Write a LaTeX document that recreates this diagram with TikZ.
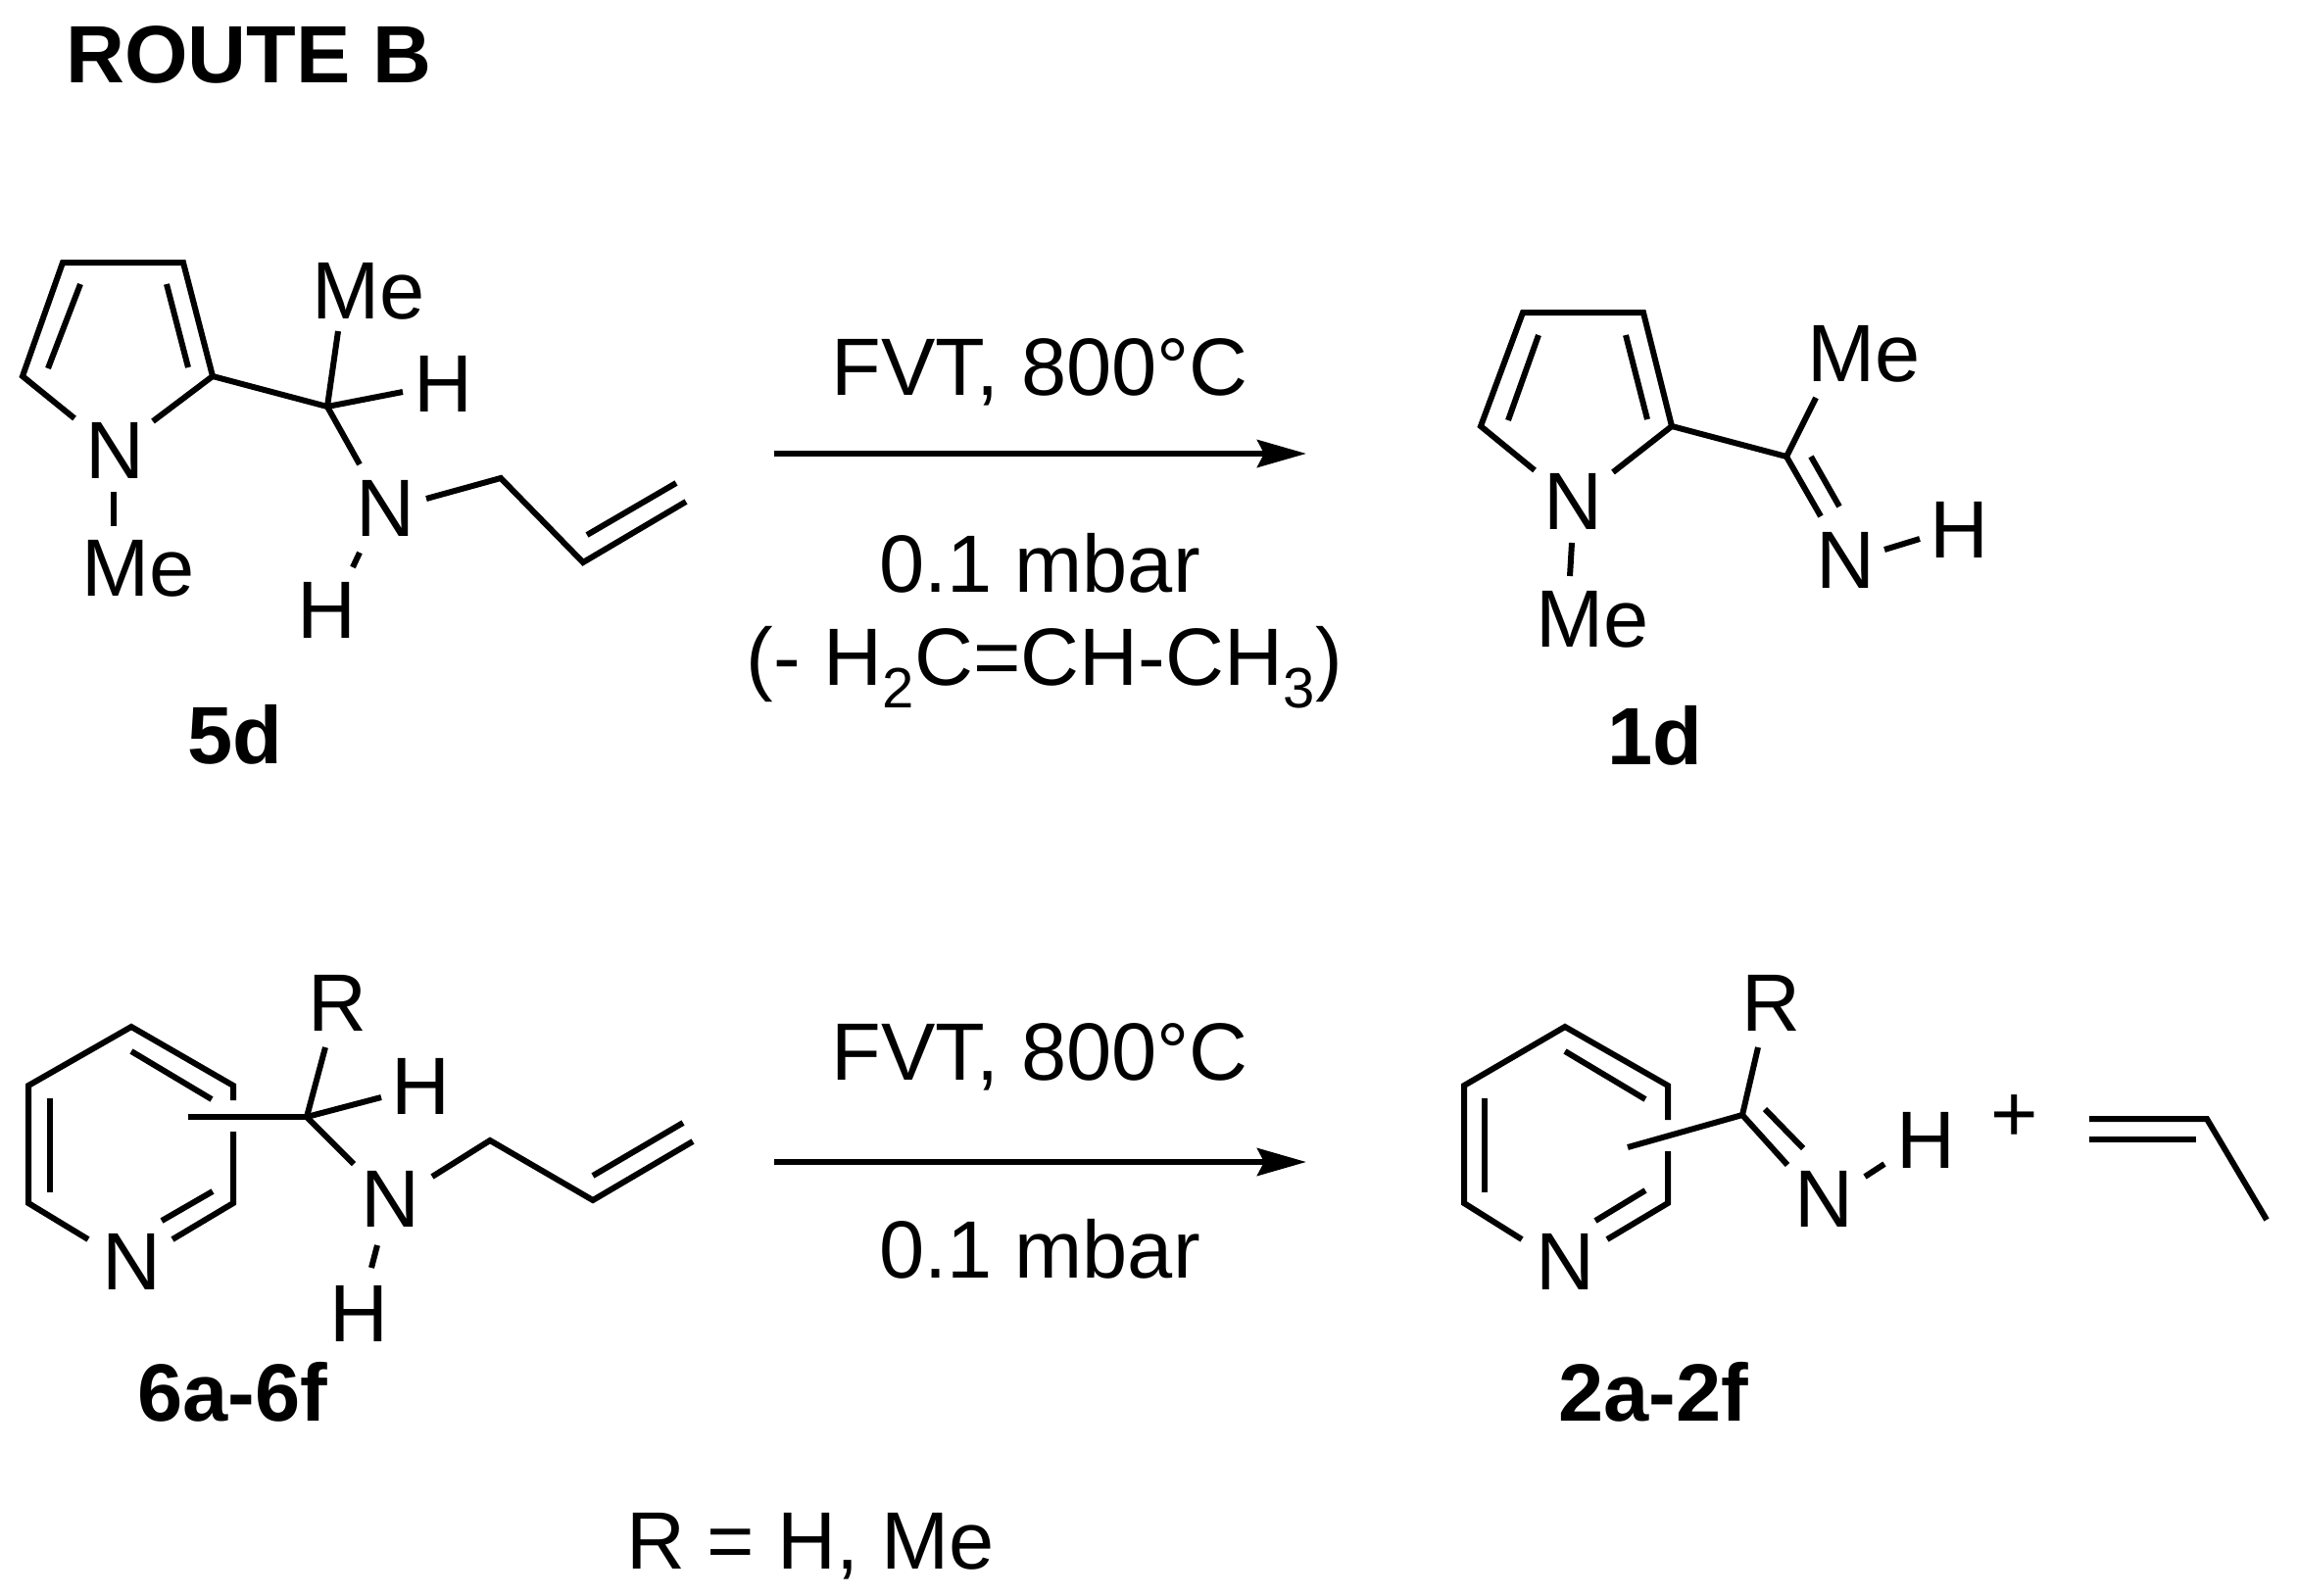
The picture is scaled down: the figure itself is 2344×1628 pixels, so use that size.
\documentclass[tikz,border=0pt]{standalone}
\usepackage{fontspec}
\setmainfont{Liberation Sans}
\usetikzlibrary{arrows.meta}
\tikzset{
  lab/.style={font=\fontsize{41.5}{50}\selectfont, inner sep=0pt, anchor=base, yshift=0.5pt},
  cpd/.style={font=\fontsize{41.5}{50}\selectfont\bfseries, inner sep=0pt, anchor=base},
  bond/.style={line width=3pt, line cap=butt, line join=miter, black},
  rxn/.style={line width=3pt, -{Stealth[length=25pt,width=14pt,inset=3.5pt]}, black}
}
\begin{document}
\begin{tikzpicture}[x=0.5pt,y=-0.5pt]
\useasboundingbox (0,0) rectangle (2344,1628);
\fill[white] (0,0) rectangle (2344,1628);

\node[cpd] (title) at (254,84) {ROUTE B};

% --- 5d ---
\node[lab] (aN) at (117,489) {N};
\node[lab] (aMe) at (141,609) {Me};
\node[lab] (aMeT) at (376,326) {Me};
\node[lab] (aHa) at (452,421) {H};
\node[lab] (aNH) at (393,548) {N};
\node[lab] (aHb) at (333,652) {H};
\node[cpd] (acpd) at (240,779) {5d};
\coordinate (a3) at (64,268);
\coordinate (a4) at (187,268);
\coordinate (a5) at (217,384);
\coordinate (a2) at (23,384);
\coordinate (aNl) at (76,427);
\coordinate (aNr) at (156,430);
\coordinate (ai1) at (82,290);
\coordinate (ai2) at (49,376);
\coordinate (ai3) at (170,290);
\coordinate (ai4) at (192,375);
\coordinate (aC) at (334,415);
\coordinate (aCu) at (345,338);
\coordinate (aCh) at (411,400);
\coordinate (aCn) at (367,474);
\coordinate (aNa) at (435,509);
\coordinate (aAl) at (511,488);
\coordinate (aAm) at (595,574);
\coordinate (aAe) at (700,512);
\coordinate (ai5) at (599,546);
\coordinate (ai6) at (690,493);
\coordinate (aNHa) at (367,564);
\coordinate (aNHb) at (360,579);
\coordinate (aNMa) at (116,502);
\coordinate (aNMb) at (116,537);
\draw[bond] (aNl) -- (a2) -- (a3) -- (a4) -- (a5) -- (aNr);
\draw[bond] (ai1) -- (ai2);
\draw[bond] (ai3) -- (ai4);
\draw[bond] (a5) -- (aC);
\draw[bond] (aCu) -- (aC) -- (aCn);
\draw[bond] (aC) -- (aCh);
\draw[bond] (aNa) -- (aAl) -- (aAm) -- (aAe);
\draw[bond] (ai5) -- (ai6);
\draw[bond] (aNHa) -- (aNHb);
\draw[bond] (aNMa) -- (aNMb);

% --- 1d ---
\node[lab] (bN) at (1605,541) {N};
\node[lab] (bMe) at (1625,661) {Me};
\node[lab] (bMeT) at (1902,390) {Me};
\node[lab] (bNH) at (1883,601) {N};
\node[lab] (bH) at (1999,570) {H};
\node[cpd] (bcpd) at (1689,780) {1d};
\coordinate (b3) at (1554,319);
\coordinate (b4) at (1677,319);
\coordinate (b5) at (1706,435);
\coordinate (b2) at (1511,435);
\coordinate (bNl) at (1566,480);
\coordinate (bNr) at (1646,482);
\coordinate (bi1) at (1570,342);
\coordinate (bi2) at (1539,429);
\coordinate (bi3) at (1659,342);
\coordinate (bi4) at (1681,428);
\coordinate (bC) at (1823,466);
\coordinate (bCu) at (1853,406);
\coordinate (bCn) at (1858,527);
\coordinate (bi5) at (1848,466);
\coordinate (bi6) at (1877,517);
\coordinate (bNHa) at (1923,561);
\coordinate (bNHb) at (1959,550);
\coordinate (bNMa) at (1604,554);
\coordinate (bNMb) at (1602,588);
\draw[bond] (bNl) -- (b2) -- (b3) -- (b4) -- (b5) -- (bNr);
\draw[bond] (bi1) -- (bi2);
\draw[bond] (bi3) -- (bi4);
\draw[bond] (b5) -- (bC);
\draw[bond] (bCu) -- (bC) -- (bCn);
\draw[bond] (bi5) -- (bi6);
\draw[bond] (bNHa) -- (bNHb);
\draw[bond] (bNMa) -- (bNMb);

% --- 6a-6f ---
\node[lab] (cN) at (134,1317) {N};
\node[lab] (cR) at (344,1053) {R};
\node[lab] (cHa) at (429,1138) {H};
\node[lab] (cNH) at (398,1253) {N};
\node[lab] (cHb) at (366,1370) {H};
\node[cpd] (ccpd) at (237,1450) {6a-6f};
\coordinate (c1) at (134,1048);
\coordinate (c2) at (238,1108);
\coordinate (c2b) at (238,1123);
\coordinate (c3b) at (238,1155);
\coordinate (c3) at (238,1228);
\coordinate (c4) at (29,1228);
\coordinate (c5) at (29,1108);
\coordinate (cNl) at (90,1265);
\coordinate (cNr) at (176,1265);
\coordinate (ci1) at (134,1073);
\coordinate (ci2) at (216,1122);
\coordinate (ci3) at (51,1121);
\coordinate (ci4) at (51,1217);
\coordinate (ci5) at (165,1246);
\coordinate (ci6) at (217,1216);
\coordinate (cS) at (192,1140);
\coordinate (cC) at (313,1140);
\coordinate (cCu) at (332,1069);
\coordinate (cCh) at (389,1120);
\coordinate (cCn) at (361,1188);
\coordinate (cNHa) at (385,1271);
\coordinate (cNHb) at (379,1294);
\coordinate (cNa) at (441,1201);
\coordinate (cAl) at (500,1164);
\coordinate (cAm) at (605,1225);
\coordinate (cAe) at (707,1165);
\coordinate (ci7) at (605,1200);
\coordinate (ci8) at (697,1146);
\draw[bond] (c2b) -- (c2) -- (c1) -- (c5) -- (c4) -- (cNl);
\draw[bond] (c3b) -- (c3) -- (cNr);
\draw[bond] (ci1) -- (ci2);
\draw[bond] (ci3) -- (ci4);
\draw[bond] (ci5) -- (ci6);
\draw[bond] (cS) -- (cC);
\draw[bond] (cCu) -- (cC) -- (cCn);
\draw[bond] (cC) -- (cCh);
\draw[bond] (cNHa) -- (cNHb);
\draw[bond] (cNa) -- (cAl) -- (cAm) -- (cAe);
\draw[bond] (ci7) -- (ci8);

% --- 2a-2f ---
\node[lab] (dN) at (1597,1317) {N};
\node[lab] (dR) at (1807,1053) {R};
\node[lab] (dNH) at (1861,1253) {N};
\node[lab] (dH) at (1965,1193) {H};
\node[lab] (dplus) at (2056,1166) {+};
\node[cpd] (dcpd) at (1687,1450) {2a-2f};
\coordinate (d1) at (1597,1048);
\coordinate (d2) at (1702,1108);
\coordinate (d2b) at (1702,1143);
\coordinate (d3b) at (1702,1175);
\coordinate (d3) at (1702,1228);
\coordinate (d4) at (1494,1228);
\coordinate (d5) at (1494,1108);
\coordinate (dNl) at (1553,1265);
\coordinate (dNr) at (1640,1265);
\coordinate (di1) at (1597,1073);
\coordinate (di2) at (1679,1122);
\coordinate (di3) at (1515,1121);
\coordinate (di4) at (1515,1217);
\coordinate (di5) at (1628,1246);
\coordinate (di6) at (1679,1215);
\coordinate (dS) at (1661,1171);
\coordinate (dC) at (1778,1138);
\coordinate (dCu) at (1794,1069);
\coordinate (dCn) at (1824,1189);
\coordinate (di7) at (1801,1132);
\coordinate (di8) at (1840,1172);
\coordinate (dNHa) at (1903,1201);
\coordinate (dNHb) at (1923,1188);
\coordinate (e1) at (2132,1142);
\coordinate (e2) at (2252,1142);
\coordinate (e3) at (2313,1245);
\coordinate (e4) at (2132,1163);
\coordinate (e5) at (2241,1163);
\draw[bond] (d2b) -- (d2) -- (d1) -- (d5) -- (d4) -- (dNl);
\draw[bond] (d3b) -- (d3) -- (dNr);
\draw[bond] (di1) -- (di2);
\draw[bond] (di3) -- (di4);
\draw[bond] (di5) -- (di6);
\draw[bond] (dS) -- (dC);
\draw[bond] (dCu) -- (dC) -- (dCn);
\draw[bond] (di7) -- (di8);
\draw[bond] (dNHa) -- (dNHb);
\draw[bond] (e1) -- (e2) -- (e3);
\draw[bond] (e4) -- (e5);

% --- reaction arrows and conditions ---
\coordinate (r1s) at (790,463);
\coordinate (r1e) at (1333,463);
\coordinate (r2s) at (790,1186);
\coordinate (r2e) at (1333,1186);
\draw[rxn] (r1s) -- (r1e);
\draw[rxn] (r2s) -- (r2e);
\node[lab] (t1) at (1061,404) {FVT, 800°C};
\node[lab] (t2) at (1061,605) {0.1 mbar};
\node[lab] (t3) at (1066,700) {(- H\textsubscript{2}C=CH-CH\textsubscript{3})};
\node[lab] (t4) at (1061,1103) {FVT, 800°C};
\node[lab] (t5) at (1061,1305) {0.1 mbar};
\node[lab] (t6) at (827,1602) {R = H, Me};
\end{tikzpicture}
\end{document}
